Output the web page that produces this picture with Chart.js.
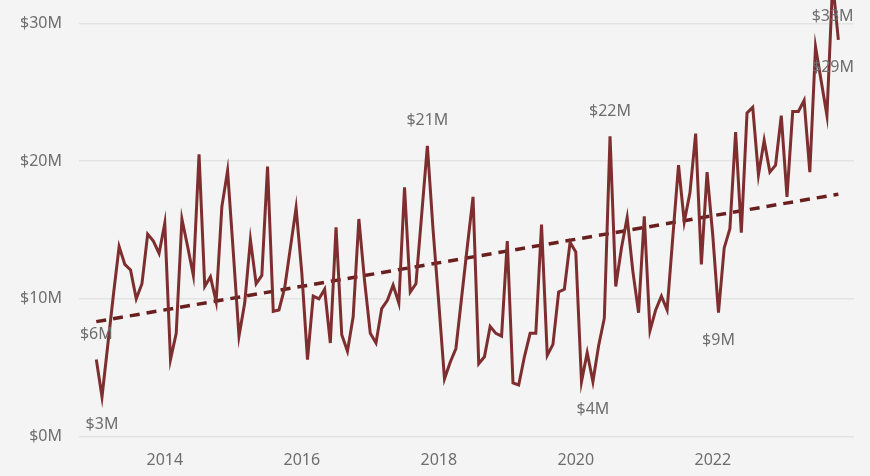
<!DOCTYPE html>
<html>
<head>
<meta charset="utf-8">
<script src="https://cdn.jsdelivr.net/npm/chart.js@4.4.1/dist/chart.umd.min.js"></script>
<style>
  html, body { margin: 0; padding: 0; background: #f4f4f4; }
  #wrap { width: 870px; height: 476px; }
</style>
</head>
<body>
<div id="wrap"><canvas id="myChart" width="870" height="476"></canvas></div>
<script>
// monthly sales in $M, Jan 2013 .. Nov 2023 (x = month index from Jan 2013)
const startYear = 2013;
const sales = [
  5.6, 2.9, 6.6, 10.3, 13.8, 12.5, 12.1, 10.0, 11.1, 14.7, 14.2, 13.3,   // 2013
  15.5, 5.6, 7.5, 15.8, 13.8, 11.7, 20.5, 10.9, 11.6, 9.8, 16.7, 19.3,   // 2014
  13.4, 7.3, 9.7, 14.3, 11.1, 11.7, 19.6, 9.1, 9.2, 10.8, 13.7, 16.6,    // 2015
  11.9, 5.6, 10.2, 10.0, 10.7, 6.8, 15.2, 7.4, 6.2, 8.7, 15.8, 11.3,     // 2016
  7.5, 6.8, 9.3, 9.9, 11.0, 9.7, 18.1, 10.5, 11.1, 16.1, 21.1, 15.0,     // 2017
  9.7, 4.2, 5.4, 6.4, 10.1, 13.8, 17.4, 5.3, 5.8, 8.0, 7.5, 7.3,         // 2018
  14.2, 3.9, 3.75, 5.8, 7.5, 7.5, 15.4, 5.9, 6.7, 10.5, 10.7, 14.1,      // 2019
  13.4, 4.0, 6.1, 4.0, 6.6, 8.6, 21.8, 10.9, 13.7, 15.9, 12.0, 9.0,      // 2020
  16.0, 7.7, 9.2, 10.2, 9.2, 14.5, 19.7, 15.6, 17.7, 22.0, 12.5, 19.2,   // 2021
  14.6, 9.0, 13.7, 15.1, 22.1, 14.8, 23.5, 23.9, 19.0, 21.5, 19.2, 19.7, // 2022
  23.3, 17.4, 23.6, 23.6, 24.4, 19.2, 28.3, 25.8, 23.3, 33.0, 28.8       // 2023
];

// trend line end points
const trendMonths = [0, 130];
const trendValues = [8.35, 17.6];

const yearTicks = [2014, 2016, 2018, 2020, 2022];
const yTicks = [0, 10, 20, 30];

// which points get a value label
const labelledPoints = [0, 1, 58, 87, 90, 109, 129, 130];

const labelFont = '16px "Segoe UI", "Noto Sans", sans-serif';
const textColor = '#6e6e6e';

const pointLabels = {
  id: 'pointLabels',
  afterDatasetsDraw(chart) {
    const meta = chart.getDatasetMeta(0);
    const ctx = chart.ctx;
    const area = chart.chartArea;
    const prev = (i) => sales[Math.max(i - 1, 0)];
    const next = (i) => sales[Math.min(i + 1, sales.length - 1)];
    ctx.save();
    ctx.font = labelFont;
    ctx.fillStyle = textColor;
    ctx.textAlign = 'center';
    ctx.textBaseline = 'middle';
    labelledPoints.forEach(i => {
      const pt = meta.data[i];
      const v = sales[i];
      const text = '$' + Math.round(v) + 'M';
      const w = ctx.measureText(text).width;
      // peaks get the label above, dips below
      const above = i === 0 || (v >= prev(i) && v >= next(i));
      let y = above ? pt.y - 25 : pt.y + 28;
      y = Math.max(y, 16);
      let x = Math.min(pt.x, area.right - w / 2);
      ctx.fillText(text, x, y);
    });
    ctx.restore();
  }
};

const ctx = document.getElementById('myChart');
new Chart(ctx, {
  type: 'line',
  data: {
    datasets: [
      {
        label: 'Sales',
        data: sales.map((v, i) => ({ x: i, y: v })),
        borderColor: '#7e2e2e',
        borderWidth: 3,
        pointRadius: 0,
        tension: 0,
        clip: false
      },
      {
        label: 'Trend',
        data: trendMonths.map((m, i) => ({ x: m, y: trendValues[i] })),
        borderColor: '#6a1f1f',
        borderWidth: 3.5,
        borderDash: [10, 7],
        pointRadius: 0,
        tension: 0
      }
    ]
  },
  options: {
    responsive: false,
    animation: false,
    layout: { padding: { left: 0, right: 16, top: 0, bottom: 0 } },
    plugins: {
      legend: { display: false },
      tooltip: { enabled: false }
    },
    scales: {
      x: {
        type: 'linear',
        min: -3.03,
        max: 132.74,
        grid: { display: false, drawTicks: false },
        border: { display: false },
        afterBuildTicks: (scale) => {
          scale.ticks = yearTicks.map(y => ({ value: (y - startYear) * 12 }));
        },
        afterFit: (scale) => {
          scale.height = 39.3;
          scale.paddingLeft = 0;
          scale.paddingRight = 0;
        },
        ticks: {
          autoSkip: false,
          maxRotation: 0,
          padding: 14,
          color: textColor,
          font: { family: '"Segoe UI", "Noto Sans", sans-serif', size: 16 },
          callback: (v) => String(startYear + v / 12)
        }
      },
      y: {
        min: 0,
        max: 31.69,
        grid: { color: '#e3e3e3', lineWidth: 1.5, drawTicks: false },
        border: { display: false },
        afterBuildTicks: (scale) => {
          scale.ticks = yTicks.map(v => ({ value: v }));
        },
        afterFit: (scale) => {
          scale.width = 79;
          scale.paddingTop = 0;
          scale.paddingBottom = 0;
        },
        ticks: {
          padding: 17,
          color: textColor,
          font: { family: '"Segoe UI", "Noto Sans", sans-serif', size: 16 },
          callback: (v) => '$' + v + 'M'
        }
      }
    }
  },
  plugins: [pointLabels]
});
</script>
</body>
</html>
